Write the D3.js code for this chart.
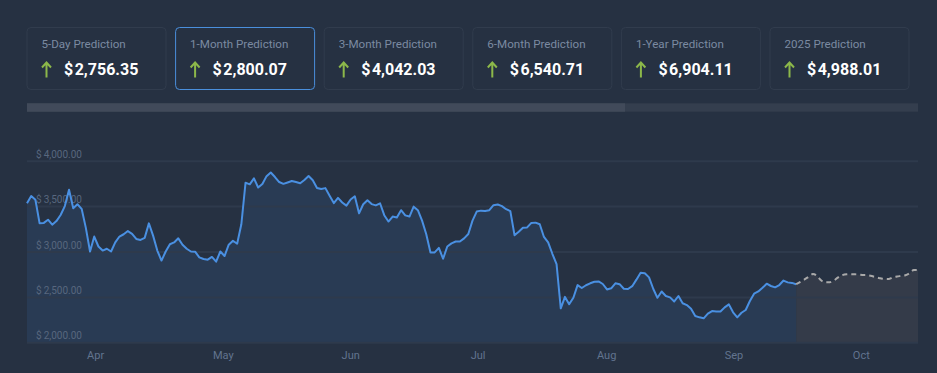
<!DOCTYPE html>
<html>
<head>
<meta charset="utf-8">
<script src="https://cdn.jsdelivr.net/npm/d3@7"></script>
<style>
  html, body { margin: 0; padding: 0; background: #263142; }
  svg { display: block; font-family: Roboto, "Open Sans", sans-serif; }
</style>
</head>
<body>
<svg id="chart" width="937" height="373"></svg>
<script>
// ---------- data ----------
const predLabels = ["5-Day Prediction", "1-Month Prediction", "3-Month Prediction", "6-Month Prediction", "1-Year Prediction", "2025 Prediction"];
const predValues = [2756.35, 2800.07, 4042.03, 6540.71, 6904.11, 4988.01];
const activeCard = 1;

// daily closes, starting 2024-03-16 (day 0)
const prices = [
  3531, 3610, 3570, 3310, 3315, 3350, 3295, 3335, 3402, 3500,
  3680, 3476, 3520, 3470, 3260, 3000, 3165, 3055, 3010, 3030,
  3000, 3100, 3165, 3190, 3225, 3195, 3138, 3127, 3150, 3310,
  3175, 3010, 2900, 3000, 3080, 3100, 3145, 3075, 3030, 3000,
  2998, 2935, 2917, 2910, 2940, 2888, 3000, 2950, 3075, 3119,
  3085, 3300, 3758, 3740, 3806, 3705, 3743, 3830, 3870, 3820,
  3765, 3745, 3760, 3776, 3765, 3751, 3788, 3831, 3785, 3700,
  3688, 3698, 3615, 3533, 3590, 3540, 3505, 3573, 3608, 3420,
  3520, 3565, 3522, 3508, 3531, 3400, 3330, 3385, 3375, 3455,
  3398, 3385, 3494, 3455, 3340, 3190, 2990, 2990, 3040, 2920,
  3055, 3090, 3110, 3110, 3145, 3192, 3340, 3440, 3450, 3445,
  3455, 3510, 3518, 3500, 3466, 3445, 3180, 3218, 3262, 3265,
  3315, 3318, 3300, 3160, 3100, 2975, 2860, 2374, 2500, 2420,
  2490, 2630, 2598, 2628, 2650, 2667, 2670, 2642, 2582, 2595,
  2650, 2640, 2590, 2587, 2618, 2690, 2766, 2760, 2715, 2590,
  2490, 2560, 2510, 2495, 2450, 2510, 2430, 2410, 2370, 2290,
  2275, 2264, 2315, 2344, 2340, 2340, 2385, 2418, 2330, 2275,
  2325, 2356, 2455, 2535, 2560, 2600, 2645, 2620, 2605, 2631,
  2680, 2660, 2654, 2640
];
// forecast, starting on the last actual day
const forecast = [
  2640, 2665, 2692, 2722, 2752, 2730, 2680, 2660, 2662, 2680,
  2715, 2740, 2749, 2750, 2749, 2745, 2741, 2738, 2730, 2715,
  2705, 2697, 2696, 2714, 2725, 2731, 2738, 2760, 2795, 2796
];
const monthLabels = ["Apr", "May", "Jun", "Jul", "Aug", "Sep", "Oct"];
const monthTickDays = [16.2, 46.6, 76.9, 107.2, 137.8, 168.1, 198.4];
const yTicks = [2000, 2500, 3000, 3500, 4000];

// ---------- layout ----------
const svg = d3.select("#chart");
const plotLeft = 27, plotRight = 918;
const lastDay = prices.length - 1 + forecast.length - 1;

const x = d3.scaleLinear().domain([0, lastDay]).range([plotLeft, plotRight]);
const y = d3.scaleLinear().domain([2000, 4000]).range([342.3, 160.7]);

const fmtMoney = d3.format(",.2f");

// ---------- prediction cards ----------
const cardW = 139, cardH = 62, cardPitch = 148.6, cardTop = 27.5;
const cards = svg.append("g").selectAll("g").data(predLabels).join("g")
  .attr("transform", (d, i) => `translate(${plotLeft + i * cardPitch},${cardTop})`);
cards.append("rect")
  .attr("width", cardW).attr("height", cardH).attr("rx", 4)
  .attr("fill", "#263142")
  .attr("stroke", (d, i) => i === activeCard ? "#4a8fdc" : "#313c4d")
  .attr("stroke-width", 1);
cards.append("text")
  .attr("x", 14.5).attr("y", 20.5)
  .attr("font-size", 11.6).attr("fill", "#7b8aa1")
  .text(d => d);
cards.append("path")
  .attr("d", "M19.5,50 V35 M15,40 L19.5,35 L24,40")
  .attr("fill", "none").attr("stroke", "#8cb84a").attr("stroke-width", 2);
const vt = cards.append("text")
  .attr("x", 37).attr("y", 47)
  .attr("font-size", 16).attr("font-weight", 700).attr("fill", "#ffffff");
vt.append("tspan").text("$");
vt.append("tspan").attr("dx", 1.5).text((d, i) => fmtMoney(predValues[i]));

// ---------- range bar ----------
svg.append("rect").attr("x", plotLeft).attr("y", 103.3).attr("width", plotRight - plotLeft).attr("height", 8.4).attr("fill", "#343e4e");
svg.append("rect").attr("x", plotLeft).attr("y", 103.3).attr("width", 625 - plotLeft).attr("height", 8.4).attr("fill", "#414a5a");

// ---------- chart ----------
const actual = prices.map((v, i) => ({ d: i, v }));
const fc = forecast.map((v, i) => ({ d: prices.length - 1 + i, v }));

// forecast background fill
svg.append("path")
  .datum(fc)
  .attr("fill", "#343b49")
  .attr("d", d3.area().x(p => x(p.d)).y0(y(2000)).y1(p => y(p.v)).curve(d3.curveMonotoneX));

// actual area fill
svg.append("path")
  .datum(actual)
  .attr("fill", "#293b54")
  .attr("d", d3.area().x(p => x(p.d)).y0(y(2000)).y1(p => y(p.v)));

// gridlines
const gAxisY = svg.append("g")
  .attr("transform", `translate(${plotLeft},0)`)
  .call(d3.axisRight(y).tickValues(yTicks).tickSize(plotRight - plotLeft)
    .tickFormat(d => "$\u2009" + fmtMoney(d)));
gAxisY.select(".domain").remove();
gAxisY.selectAll(".tick line").attr("stroke", "#2e3a4c").attr("stroke-width", 2);
gAxisY.selectAll(".tick text")
  .attr("x", 9).attr("dy", -3.5)
  .attr("font-family", "Roboto, sans-serif")
  .attr("font-size", 10).attr("fill", "#58677e");

// actual line
svg.append("path")
  .datum(actual)
  .attr("fill", "none").attr("stroke", "#4a90e2").attr("stroke-width", 2)
  .attr("stroke-linejoin", "round")
  .attr("d", d3.line().x(p => x(p.d)).y(p => y(p.v)));

// forecast line
svg.append("path")
  .datum(fc)
  .attr("fill", "none").attr("stroke", "#a9a9a9").attr("stroke-width", 2)
  .attr("stroke-dasharray", "5,4")
  .attr("d", d3.line().x(p => x(p.d)).y(p => y(p.v)).curve(d3.curveMonotoneX));

// x axis
const gAxisX = svg.append("g")
  .attr("transform", `translate(0,${y(2000)})`)
  .call(d3.axisBottom(x).tickValues(monthTickDays).tickSize(0)
    .tickFormat((d, i) => monthLabels[i]));
gAxisX.select(".domain").remove();
gAxisX.selectAll(".tick text")
  .attr("dy", 14)
  .attr("font-family", "Roboto, sans-serif")
  .attr("font-size", 11).attr("fill", "#62748f");
</script>
</body>
</html>
